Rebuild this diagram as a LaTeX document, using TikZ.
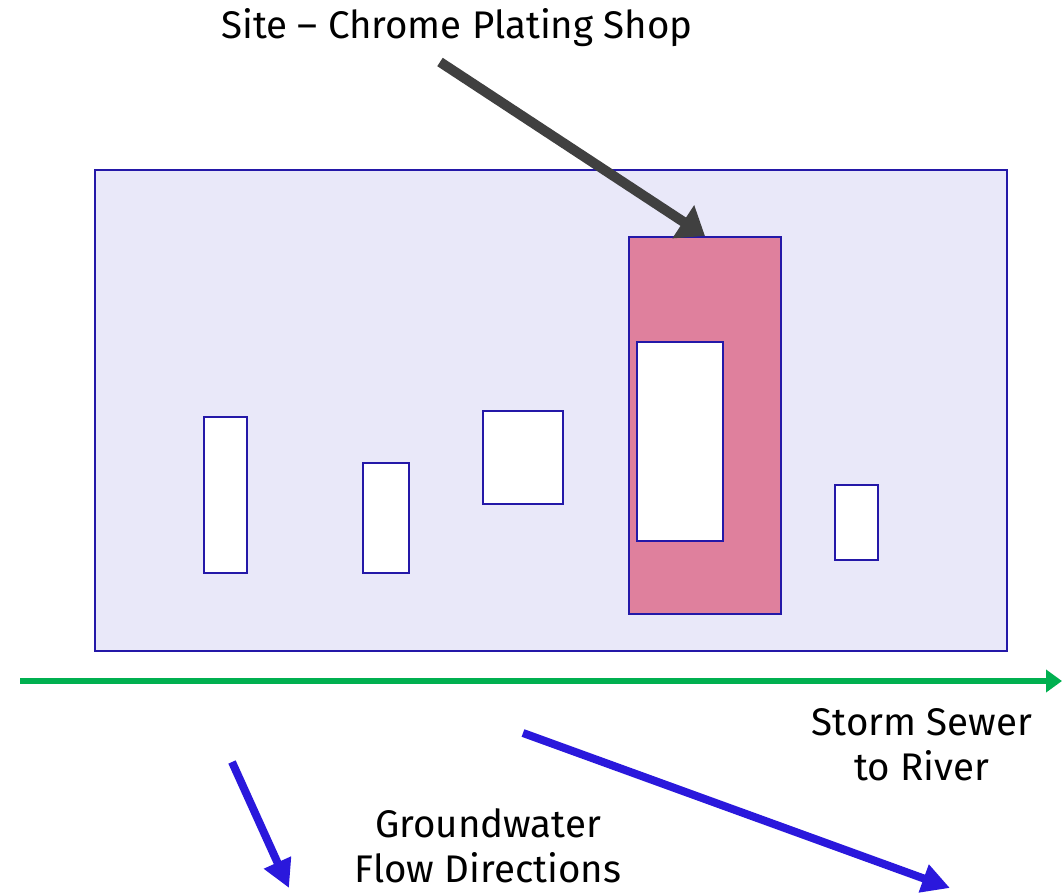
\documentclass[tikz,border=0pt]{standalone}
\usepackage{fontspec}
\setmainfont{Fira Sans}
\usetikzlibrary{arrows.meta}
\definecolor{lav}{HTML}{E9E8F9}
\definecolor{edge}{HTML}{2418A8}
\definecolor{pinkfill}{HTML}{DF809D}
\definecolor{grayarr}{HTML}{404040}
\definecolor{greenarr}{HTML}{00B050}
\definecolor{bluearr}{HTML}{2A18DC}
\tikzset{
  box/.style={draw=edge, line width=2pt},
  lbl/.style={font=\fontsize{38.5}{45}\selectfont, align=center, inner sep=0pt},
}
\begin{document}
\begin{tikzpicture}[x=1pt,y=-1pt]
\useasboundingbox (0,0) rectangle (1062,894);
\fill[white] (0,0) rectangle (1062,894);
% main site area
\draw[box, fill=lav] (95,170) rectangle (1007,651);
\node[box, fill=pinkfill, minimum width=152pt, minimum height=377pt, inner sep=0pt, anchor=north west] (shop) at (628,236) {};
\draw[box, fill=white] (637,342) rectangle (723,541);
\draw[box, fill=white] (204,417) rectangle (247,573);
\draw[box, fill=white] (363,463) rectangle (409,573);
\draw[box, fill=white] (483,411) rectangle (563,504);
\draw[box, fill=white] (835,485) rectangle (878,560);
% labels
\node[lbl] (site) at (457,28) {Site – Chrome Plating Shop};
\node[lbl] (storm) at (922,745) {Storm Sewer\\to River};
\node[lbl] (gw) at (488,846) {Groundwater\\Flow Directions};
% arrows
\coordinate (g0) at (440,62);
\coordinate (g1) at (705,236);
\draw[grayarr, line width=10pt, -{Triangle[length=26pt,width=38pt]}] (g0) -- (g1);
\coordinate (s0) at (20,681);
\coordinate (s1) at (1062,681);
\draw[greenarr, line width=6pt, -{Triangle[length=16pt,width=22pt]}] (s0) -- (s1);
\coordinate (b0) at (232,762);
\coordinate (b1) at (289,888);
\draw[bluearr, line width=8pt, -{Triangle[length=28pt,width=28pt]}] (b0) -- (b1);
\coordinate (c0) at (523,733);
\coordinate (c1) at (950,888);
\draw[bluearr, line width=8pt, -{Triangle[length=28pt,width=28pt]}] (c0) -- (c1);
\end{tikzpicture}
\end{document}
